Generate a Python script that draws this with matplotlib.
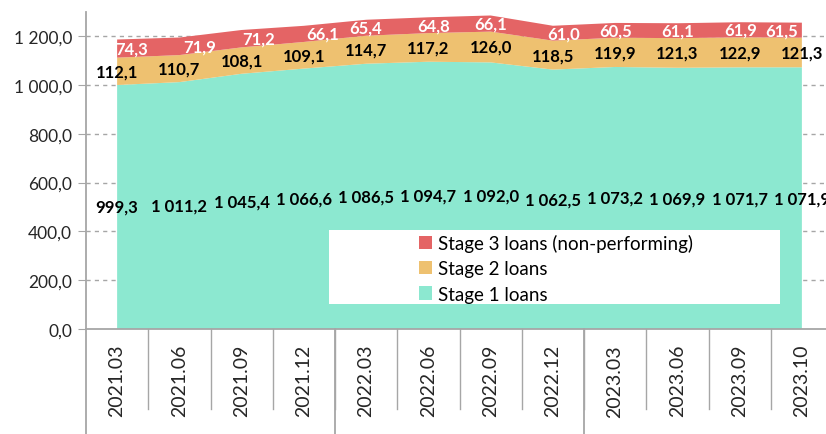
import matplotlib
matplotlib.use("Agg")
import matplotlib.pyplot as plt
from matplotlib.patches import Patch, Rectangle
from matplotlib.lines import Line2D
import numpy as np

categories = ["2021.03", "2021.06", "2021.09", "2021.12", "2022.03", "2022.06",
              "2022.09", "2022.12", "2023.03", "2023.06", "2023.09", "2023.10"]
stage1 = [999.3, 1011.2, 1045.4, 1066.6, 1086.5, 1094.7, 1092.0, 1062.5, 1073.2, 1069.9, 1071.7, 1071.9]
stage2 = [112.1, 110.7, 108.1, 109.1, 114.7, 117.2, 126.0, 118.5, 119.9, 121.3, 122.9, 121.3]
stage3 = [74.3, 71.9, 71.2, 66.1, 65.4, 64.8, 66.1, 61.0, 60.5, 61.1, 61.9, 61.5]
yticks = [0, 200, 400, 600, 800, 1000, 1200]
year_breaks = [3.5, 7.5]
# horizontal nudges of the stage-3 labels (in category widths), as placed in the original
stage3_label_dx = [0.24, 0.32, 0.27, 0.30, 0.0, 0.08, 0.0, 0.18, 0.0, 0.0, 0.02, -0.32]

c1 = "#8CE8D0"
c2 = "#EEC170"
c3 = "#E46465"

FONT = "Lato"
plt.rcParams['font.family'] = [FONT, 'DejaVu Sans']

def fmt(v):
    return f"{v:,.1f}".replace(",", " ").replace(".", ",")

W, H = 826, 435
fig = plt.figure(figsize=(W / 100, H / 100), dpi=100)
left, right, bottom, top = 86, 833, 330, 12.6
ax = fig.add_axes([left / W, 1 - bottom / H, (right - left) / W, (bottom - top) / H])

x = np.arange(len(categories))
ax.stackplot(x, stage1, stage2, stage3, colors=[c1, c2, c3], linewidth=0, zorder=2)

ax.set_xlim(-0.5, len(categories) - 0.5)
ax.set_ylim(0, 1300)
ax.set_yticks(yticks)
ax.set_yticklabels([fmt(v) for v in yticks], fontsize=12.5, color="#262626")
for v in yticks[1:]:
    ax.axhline(v, color="#A6A6A6", linestyle=(0, (3, 3)), linewidth=1, zorder=1)

for s in ["top", "right"]:
    ax.spines[s].set_visible(False)
for s in ["left", "bottom"]:
    ax.spines[s].set_color("#A6A6A6")
    ax.spines[s].set_linewidth(1.3)
ax.tick_params(axis="y", length=6, color="#A6A6A6", pad=4)
ax.set_xticks([])

# category labels and separators
trans = ax.get_xaxis_transform()
axh = bottom - top
for i, c in enumerate(categories):
    ax.text(i, -15 / axh, c, rotation=90, ha="center", va="top", fontsize=14,
            color="#262626", transform=trans)
for k in range(1, len(categories) + 1):
    xb = k - 0.5
    ax.add_line(Line2D([xb, xb], [0, -80 / axh], transform=trans, color="#A6A6A6",
                       linewidth=1, clip_on=False))
for xb in [-0.5] + year_breaks:
    ax.add_line(Line2D([xb, xb], [0, -(H - bottom) / axh], transform=trans, color="#A6A6A6",
                       linewidth=1.3, clip_on=False))

# data labels
for i in range(len(categories)):
    s1, s2, s3 = stage1[i], stage2[i], stage3[i]
    ax.text(i, s1 / 2, fmt(s1), ha="center", va="center", fontsize=12, fontweight="bold",
            color="black", zorder=5, clip_on=False)
    ax.text(i, s1 + s2 / 2, fmt(s2), ha="center", va="center", fontsize=12, fontweight="bold",
            color="black", zorder=5)
    ax.text(i + stage3_label_dx[i], s1 + s2 + s3 / 2, fmt(s3), ha="center", va="center",
            fontsize=12, fontweight="bold", color="white", zorder=5)

# legend
ftr = fig.transFigure
fig.patches.append(Rectangle((329 / W, 1 - 305 / H), (780 - 329) / W, (305 - 231) / H,
                             transform=ftr, facecolor="white", edgecolor="none", zorder=3))
handles = [Patch(facecolor=c3), Patch(facecolor=c2), Patch(facecolor=c1)]
labels = ["Stage 3 loans (non-performing)", "Stage 2 loans", "Stage 1 loans"]
leg = fig.legend(handles, labels, loc="upper left", bbox_to_anchor=(413 / W, 1 - 229 / H),
                 bbox_transform=ftr, frameon=False, fontsize=13.5, handlelength=0.7,
                 handleheight=0.7, handletextpad=0.35, labelspacing=0.45, borderpad=0.3,
                 borderaxespad=0)
leg.set_zorder(6)

fig.savefig("out.png", dpi=100)
